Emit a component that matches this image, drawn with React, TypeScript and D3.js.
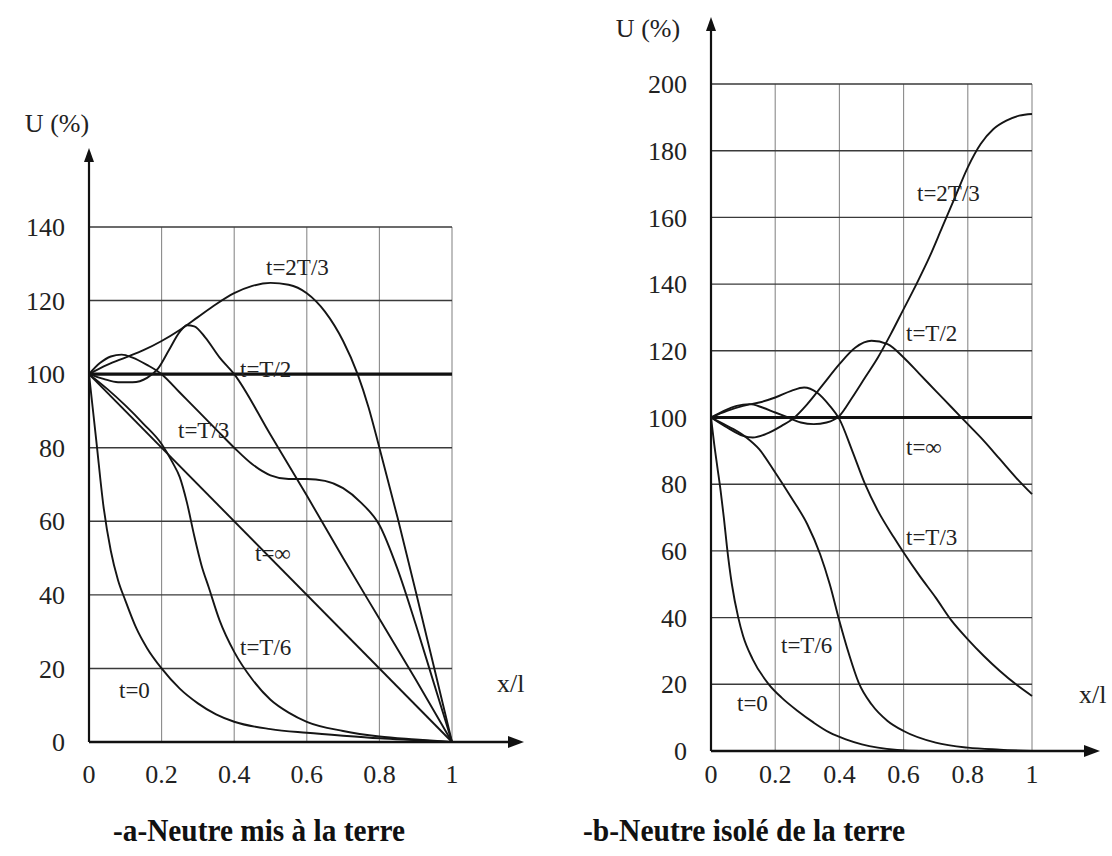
import React from "react";
import * as d3 from "d3";

// ---------- shared ticks ----------
const xTicks = [0, 0.2, 0.4, 0.6, 0.8, 1];
const xTickLabels = ["0", "0.2", "0.4", "0.6", "0.8", "1"];
const yTicksA = [0, 20, 40, 60, 80, 100, 120, 140];
const yTicksB = [0, 20, 40, 60, 80, 100, 120, 140, 160, 180, 200];

// ---------- data: panel a (neutral grounded) ----------
const a_t0: [number, number][] = [[0,100],[0.02,82],[0.04,64],[0.06,52],[0.08,44],[0.1,38.5],[0.13,31],[0.16,25.5],[0.2,20],[0.25,14.5],[0.3,10.5],[0.35,7.5],[0.4,5.5],[0.5,3.5],[0.6,2.5],[0.7,1.7],[0.8,1],[0.9,0.5],[1,0]];
const a_t6: [number, number][] = [[0,100],[0.05,96],[0.1,91.5],[0.15,86.5],[0.2,81],[0.23,76],[0.25,72],[0.27,65],[0.29,56],[0.31,48],[0.33,42],[0.36,33],[0.4,24.5],[0.45,17],[0.5,11.5],[0.55,8],[0.6,5.5],[0.7,3],[0.8,1.5],[0.9,0.7],[1,0]];
const a_t3: [number, number][] = [[0,100],[0.03,103],[0.06,104.8],[0.09,105.3],[0.12,104.5],[0.16,102.5],[0.2,100],[0.25,95],[0.3,90],[0.35,85],[0.4,80],[0.45,75.5],[0.5,72.5],[0.55,71.5],[0.6,71.5],[0.65,71],[0.7,69],[0.75,65],[0.8,59],[0.85,47],[0.9,32],[0.95,16],[1,0]];
const a_t2: [number, number][] = [[0,100],[0.04,98.7],[0.08,97.8],[0.12,97.8],[0.16,99],[0.19,101.5],[0.22,106.5],[0.25,111.5],[0.27,113.3],[0.29,113],[0.32,110],[0.36,104.5],[0.4,100],[0.5,83.5],[0.6,67],[0.7,50],[0.8,33.5],[0.9,17],[1,0]];
const a_t23: [number, number][] = [[0,100],[0.05,102.5],[0.1,104.5],[0.15,106.5],[0.2,109],[0.25,112],[0.3,115.5],[0.35,119],[0.4,122],[0.45,124],[0.5,124.8],[0.55,124.3],[0.6,122],[0.65,117],[0.7,109],[0.74,100],[0.77,91],[0.8,80],[0.85,61],[0.9,41],[0.95,20.5],[1,0]];
const a_tinf: [number, number][] = [[0,100],[1,0]];
const a_grid100: [number, number][] = [[0,100],[1,100]];

// ---------- data: panel b (neutral isolated) ----------
const b_t0: [number, number][] = [[0,100],[0.01,92],[0.02,85],[0.03,78],[0.04,70],[0.05,61],[0.065,50],[0.085,40],[0.1,34.5],[0.13,27.5],[0.18,20],[0.22,16],[0.27,12],[0.32,8.5],[0.37,5.5],[0.42,3.5],[0.47,2],[0.52,1],[0.58,0.3],[0.65,0],[1,0]];
const b_t6: [number, number][] = [[0,100],[0.04,98],[0.07,96.5],[0.11,94],[0.15,90.5],[0.2,83.5],[0.25,76],[0.3,68],[0.34,59],[0.37,50],[0.4,39],[0.43,29],[0.46,20.5],[0.5,14],[0.55,9],[0.6,6],[0.7,2.5],[0.8,1],[0.9,0.4],[1,0]];
const b_t3: [number, number][] = [[0,100],[0.05,102],[0.1,103.5],[0.15,104.5],[0.2,106],[0.25,108],[0.29,109],[0.33,107.5],[0.37,103.5],[0.4,99.5],[0.44,90],[0.48,80],[0.52,72],[0.57,64],[0.6,59.5],[0.65,52.5],[0.7,46],[0.75,39],[0.8,33.5],[0.85,28.5],[0.9,24],[0.95,20],[1,16.5]];
const b_t2: [number, number][] = [[0,100],[0.05,97],[0.1,94.5],[0.13,94],[0.17,95],[0.22,97.5],[0.26,100],[0.3,104],[0.35,110],[0.4,116],[0.45,121],[0.5,123],[0.55,122],[0.6,118],[0.65,113],[0.7,108],[0.75,103],[0.8,98],[0.85,93],[0.9,87.5],[0.95,82],[1,77]];
const b_t23: [number, number][] = [[0,100],[0.04,102],[0.08,103.5],[0.12,104],[0.16,103],[0.2,101.5],[0.24,100],[0.28,98.5],[0.32,98],[0.36,98.5],[0.4,100.5],[0.44,106],[0.48,112],[0.52,118],[0.56,125],[0.6,132.5],[0.64,140],[0.68,148],[0.72,157],[0.76,166],[0.8,175],[0.84,182],[0.88,186.5],[0.92,189],[0.96,190.5],[1,191]];
const b_tinf: [number, number][] = [[0,100],[1,100]];

const FONT = "Liberation Serif, Times New Roman, serif";

type Label = { text: string; x: number; y: number };

function Panel(props: {
  x0: number; x1: number; y0: number; y1: number; yMax: number;
  yTicks: number[]; series: [number, number][][]; thick: [number, number][];
  arrowTop: number; arrowRight: number; labels: Label[]; uLabel: Label; xl: Label;
}) {
  const { x0, x1, y0, y1, yMax, yTicks, series, thick, arrowTop, arrowRight, labels, uLabel, xl } = props;
  const x = d3.scaleLinear().domain([0, 1]).range([x0, x1]);
  const y = d3.scaleLinear().domain([0, yMax]).range([y0, y1]);
  const line = d3.line<[number, number]>().x(d => x(d[0])).y(d => y(d[1])).curve(d3.curveMonotoneX);
  return (
    <g>
      {xTicks.slice(1).map(t => (
        <line key={"v" + t} x1={x(t)} x2={x(t)} y1={y(0)} y2={y(yMax)} stroke="#8a8a8a" strokeWidth={1.1} />
      ))}
      {yTicks.slice(1).map(t => (
        <line key={"h" + t} x1={x(0)} x2={x(1)} y1={y(t)} y2={y(t)} stroke="#3a3a3a" strokeWidth={1.4} />
      ))}
      <path d={line(thick) || ""} fill="none" stroke="#111" strokeWidth={3.2} />
      {series.map((s, i) => (
        <path key={i} d={line(s) || ""} fill="none" stroke="#151515" strokeWidth={1.9} />
      ))}
      <line x1={x(0)} x2={x(0)} y1={y(0)} y2={arrowTop + 10} stroke="#111" strokeWidth={2.2} />
      <polygon points={`${x(0)},${arrowTop} ${x(0) - 5},${arrowTop + 14} ${x(0) + 5},${arrowTop + 14}`} fill="#111" />
      <line x1={x(0)} x2={arrowRight - 10} y1={y(0)} y2={y(0)} stroke="#111" strokeWidth={2.6} />
      <polygon points={`${arrowRight},${y(0)} ${arrowRight - 16},${y(0) - 6} ${arrowRight - 16},${y(0) + 6}`} fill="#111" />
      {yTicks.map(t => (
        <text key={"yl" + t} x={x(0) - 24} y={y(t)} dy="0.35em" textAnchor="end" fontSize={26} fontFamily={FONT} fill="#222">{t}</text>
      ))}
      {xTicks.map((t, i) => (
        <text key={"xl" + t} x={x(t)} y={783} textAnchor="middle" fontSize={26} fontFamily={FONT} fill="#222">{xTickLabels[i]}</text>
      ))}
      <text x={uLabel.x} y={uLabel.y} textAnchor="middle" fontSize={26} fontFamily={FONT} fill="#222">{uLabel.text}</text>
      <text x={xl.x} y={xl.y} fontSize={26} fontFamily={FONT} fill="#222">{xl.text}</text>
      {labels.map((l, i) => (
        <text key={"cl" + i} x={l.x} y={l.y} fontSize={23} fontFamily={FONT} fill="#222">{l.text}</text>
      ))}
    </g>
  );
}

export default function App() {
  return (
    <svg width={1112} height={856} style={{ position: "absolute", left: 0, top: 0, background: "#fff" }}>
      <rect width={1112} height={856} fill="#fff" />
      <Panel
        x0={89} x1={452} y0={742} y1={227} yMax={140} yTicks={yTicksA}
        series={[a_t0, a_t6, a_t3, a_t2, a_t23, a_tinf]} thick={a_grid100}
        arrowTop={148} arrowRight={524}
        uLabel={{ text: "U (%)", x: 57, y: 132 }}
        xl={{ text: "x/l", x: 497, y: 692 }}
        labels={[
          { text: "t=2T/3", x: 266, y: 275 },
          { text: "t=T/2", x: 240, y: 377 },
          { text: "t=T/3", x: 178, y: 438 },
          { text: "t=∞", x: 255, y: 561 },
          { text: "t=T/6", x: 240, y: 655 },
          { text: "t=0", x: 119, y: 698 },
        ]}
      />
      <Panel
        x0={711} x1={1032} y0={751} y1={84} yMax={200} yTicks={yTicksB}
        series={[b_t0, b_t6, b_t3, b_t2, b_t23]} thick={b_tinf}
        arrowTop={17} arrowRight={1100}
        uLabel={{ text: "U (%)", x: 648, y: 37 }}
        xl={{ text: "x/l", x: 1079, y: 703 }}
        labels={[
          { text: "t=2T/3", x: 917, y: 201 },
          { text: "t=T/2", x: 906, y: 341 },
          { text: "t=∞", x: 906, y: 455 },
          { text: "t=T/3", x: 906, y: 545 },
          { text: "t=T/6", x: 781, y: 653 },
          { text: "t=0", x: 737, y: 711 },
        ]}
      />
      <text x={113} y={841} fontSize={31} fontWeight="bold" fontFamily={FONT} fill="#111" textLength={292} lengthAdjust="spacingAndGlyphs">-a-Neutre mis à la terre</text>
      <text x={583} y={841} fontSize={31} fontWeight="bold" fontFamily={FONT} fill="#111" textLength={322} lengthAdjust="spacingAndGlyphs">-b-Neutre isolé de la terre</text>
    </svg>
  );
}
